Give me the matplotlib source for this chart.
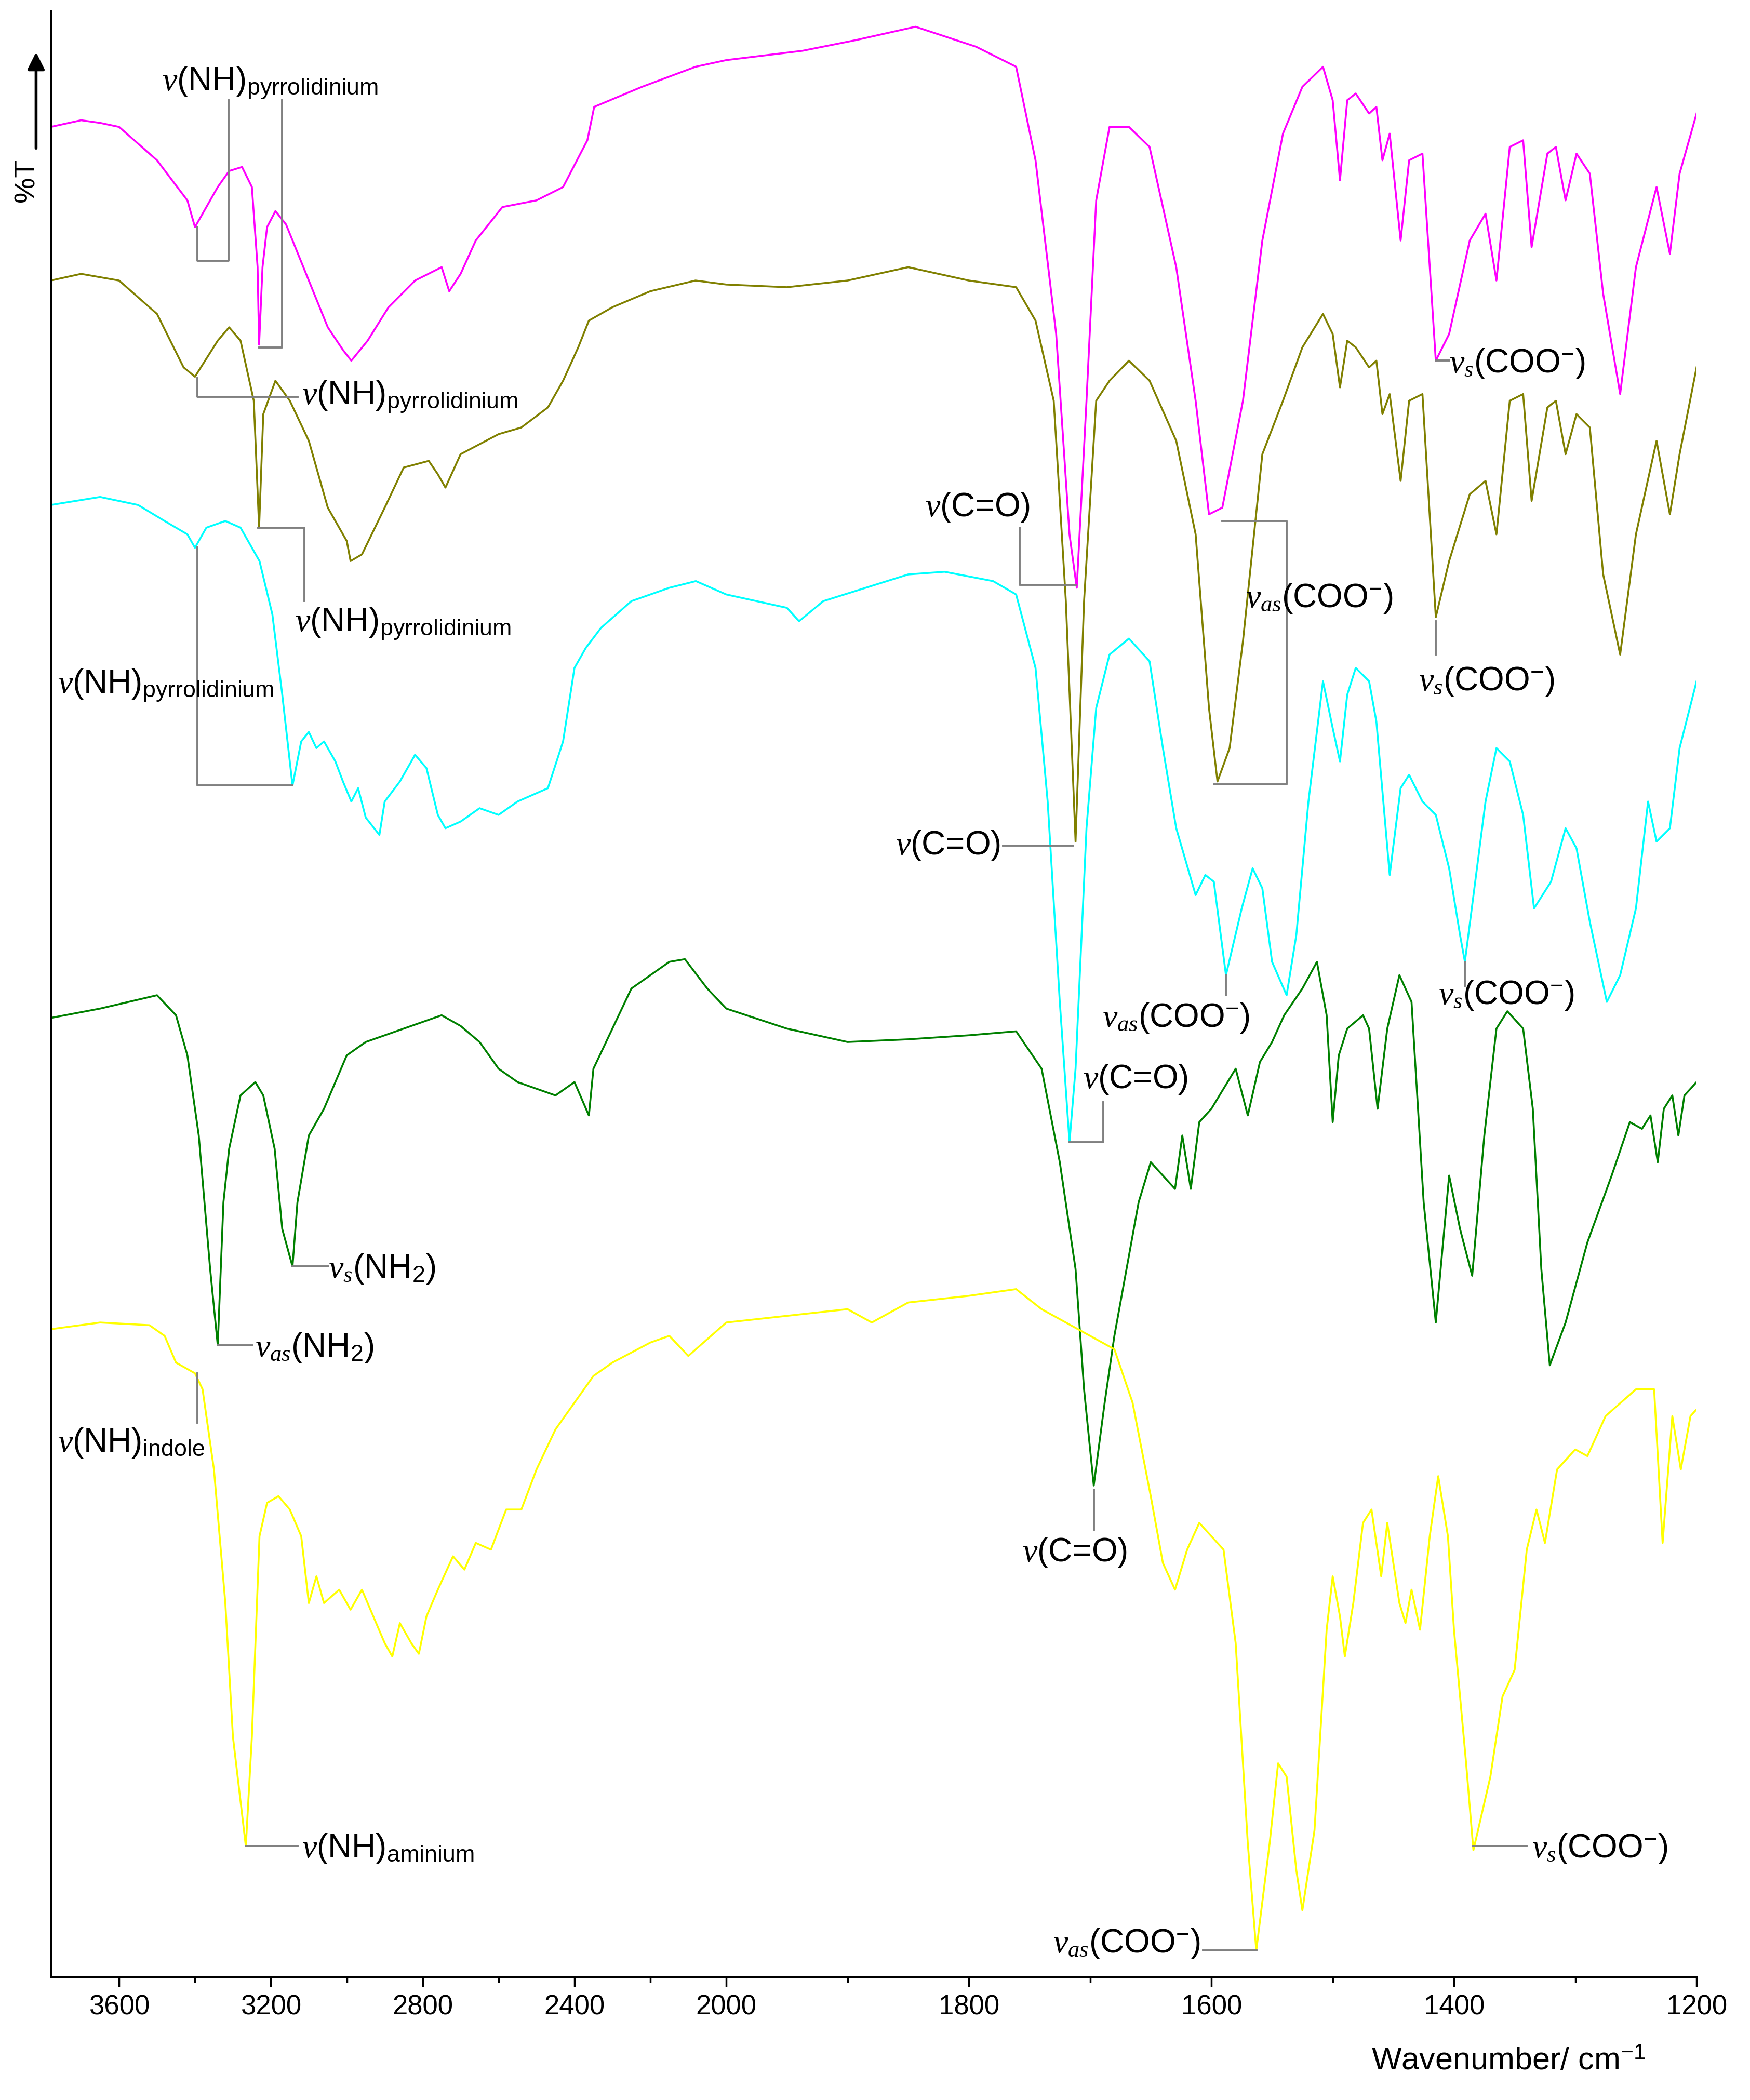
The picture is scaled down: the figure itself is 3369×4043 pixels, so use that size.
import numpy as np
import matplotlib
matplotlib.use("Agg")
import matplotlib.pyplot as plt

plt.rcParams['font.family'] = ['Liberation Sans', 'DejaVu Sans']
plt.rcParams['mathtext.fontset'] = 'custom'
plt.rcParams['mathtext.rm'] = 'Liberation Sans'
plt.rcParams['mathtext.it'] = 'Liberation Serif:italic'
plt.rcParams['mathtext.bf'] = 'Liberation Sans:bold'

# ---- data: wavenumber (cm-1) and curve height (plot units, larger = lower on page)
mag_w = [3780,3700,3650,3600,3500,3420,3400,3340,3310,3276,3250,3235,3231,3222,3210,3188,3160,3100,3050,3010,2988,2945,2890,2820,2750,2730,2700,2660,2590,2500,2430,2366,2348,2222,2081,2000,1937,1893,1844,1794,1761,1745,1728,1717,1711,1703,1695,1684,1668,1651,1629,1613,1602,1591,1574,1558,1541,1525,1508,1500,1494,1488,1481,1470,1464,1459,1453,1444,1437,1426,1415,1404,1387,1374,1365,1354,1343,1336,1323,1316,1308,1299,1288,1277,1263,1250,1233,1222,1214,1200]
mag_y = [95,90,92,95,120,150,170,140,128,125,140,200,258,200,170,158,168,210,245,262,270,255,230,210,200,218,205,180,155,150,140,105,80,65,50,45,38,30,20,35,50,120,250,400,440,300,150,95,95,110,200,300,385,380,300,180,100,65,50,75,135,75,70,85,80,120,100,180,120,115,270,250,180,160,210,110,105,185,115,110,150,115,130,220,295,200,140,190,130,85]

olv_w = [3780,3700,3600,3500,3430,3400,3340,3310,3280,3245,3231,3220,3188,3150,3100,3050,3000,2990,2960,2900,2850,2784,2760,2740,2700,2600,2540,2470,2430,2390,2362,2300,2200,2081,2000,1950,1900,1850,1800,1761,1745,1730,1720,1712,1705,1695,1684,1668,1651,1629,1613,1602,1595,1585,1574,1558,1541,1525,1508,1500,1494,1488,1481,1470,1464,1459,1453,1444,1437,1426,1415,1404,1387,1374,1365,1354,1343,1336,1323,1316,1308,1299,1288,1277,1263,1250,1233,1222,1214,1200]
olv_y = [210,205,210,235,275,282,255,245,255,300,395,310,285,300,330,380,405,420,415,380,350,345,355,365,340,325,320,305,285,260,240,230,218,210,213,215,210,200,210,215,240,300,450,630,450,300,285,270,285,330,400,530,585,560,480,340,300,260,235,250,290,255,260,275,270,310,295,360,300,295,462,420,370,360,400,300,295,375,305,300,340,310,320,430,490,400,330,385,340,275]

cyn_w = [3780,3650,3550,3480,3420,3400,3370,3320,3280,3230,3196,3170,3143,3120,3100,3080,3060,3030,3010,2988,2970,2950,2914,2900,2860,2820,2790,2760,2740,2700,2650,2600,2550,2470,2430,2400,2370,2330,2250,2150,2080,2000,1950,1940,1920,1850,1820,1780,1761,1745,1735,1725,1717,1712,1703,1695,1684,1668,1651,1640,1629,1613,1605,1598,1588,1575,1566,1558,1550,1538,1530,1520,1508,1500,1494,1488,1481,1470,1464,1453,1444,1437,1426,1415,1404,1395,1391,1374,1365,1354,1343,1334,1320,1308,1299,1288,1274,1263,1250,1240,1233,1222,1214,1200]
cyn_y = [378,372,378,390,400,410,395,390,395,420,460,520,588,555,548,560,555,570,585,600,590,612,625,600,585,565,575,610,620,615,605,610,600,590,555,500,485,470,450,440,435,445,455,465,450,430,428,435,445,500,600,750,855,800,620,530,490,478,495,560,620,670,655,660,730,680,650,665,720,745,700,600,510,545,570,520,500,510,540,655,590,580,600,610,650,700,720,600,560,570,610,680,660,620,635,690,750,730,680,600,630,620,560,510]

grn_w = [3780,3650,3500,3450,3420,3390,3360,3340,3325,3310,3280,3241,3220,3190,3170,3143,3130,3100,3060,3030,3000,2950,2900,2850,2800,2750,2700,2650,2600,2550,2500,2450,2400,2362,2350,2300,2250,2150,2109,2050,2000,1950,1900,1850,1800,1761,1740,1725,1712,1705,1697,1688,1680,1670,1660,1650,1640,1630,1624,1617,1610,1600,1590,1580,1570,1560,1550,1540,1525,1513,1505,1500,1495,1488,1475,1470,1463,1455,1445,1435,1425,1415,1404,1395,1385,1375,1365,1356,1343,1335,1328,1321,1308,1290,1270,1255,1245,1238,1232,1227,1220,1215,1210,1200]
grn_y = [762,755,745,760,790,850,950,1007,900,860,820,810,820,860,920,948,900,850,830,810,790,780,775,770,765,760,768,780,800,810,815,820,810,835,800,770,740,720,718,740,755,770,780,778,775,772,800,870,950,1040,1112,1050,1000,950,900,870,880,890,850,890,840,830,815,800,835,795,780,760,740,720,760,840,790,770,760,770,830,770,730,750,900,990,880,920,955,850,770,757,770,830,950,1022,990,930,880,840,845,835,870,830,820,850,820,810]

yel_w = [3780,3650,3520,3480,3450,3400,3380,3350,3320,3300,3266,3250,3230,3210,3180,3150,3120,3100,3080,3060,3020,2990,2960,2930,2900,2880,2860,2830,2810,2790,2760,2720,2690,2660,2620,2580,2540,2500,2450,2400,2350,2300,2200,2150,2100,2060,2000,1950,1900,1880,1850,1800,1761,1740,1720,1700,1680,1665,1650,1640,1630,1620,1610,1600,1590,1580,1570,1563,1552,1545,1538,1530,1525,1515,1505,1500,1494,1490,1483,1475,1468,1460,1455,1450,1445,1440,1435,1428,1420,1413,1405,1400,1390,1384,1370,1360,1350,1340,1332,1325,1315,1300,1290,1275,1250,1235,1228,1220,1213,1205,1200]
yel_y = [995,990,992,1000,1020,1028,1040,1100,1200,1300,1382,1300,1150,1125,1120,1130,1150,1200,1180,1200,1190,1205,1190,1210,1230,1240,1215,1230,1238,1210,1190,1165,1175,1155,1160,1130,1130,1100,1070,1050,1030,1020,1005,1000,1015,1005,990,985,980,990,975,970,965,980,990,1000,1010,1050,1120,1170,1190,1160,1140,1150,1160,1230,1380,1460,1380,1320,1330,1400,1430,1370,1220,1180,1210,1240,1200,1140,1130,1180,1140,1170,1200,1215,1190,1220,1150,1105,1150,1220,1320,1385,1330,1270,1250,1160,1130,1155,1100,1085,1090,1060,1040,1040,1155,1060,1100,1060,1055]

curves = [(mag_w, mag_y, '#FF00FF'), (olv_w, olv_y, '#808000'), (cyn_w, cyn_y, '#00FFFF'),
          (grn_w, grn_y, '#008000'), (yel_w, yel_y, '#FFFF00')]

tick_vals = [3600, 3200, 2800, 2400, 2000, 1800, 1600, 1400, 1200]
minor_vals = [3400, 3000, 2600, 2200, 1900, 1700, 1500, 1300]

# ---- broken wavenumber scale (increasing function of wavenumber; axis limits invert it)
B = 2000.0
P0 = (3780 - B) * 0.2844
def fwd(w):
    w = np.asarray(w, dtype=float)
    pos = np.where(w >= B, (3780 - w) * 0.2844, P0 + (B - w) * 0.909)
    return -pos
def inv(q):
    p = -np.asarray(q, dtype=float)
    return np.where(p <= P0, 3780 - p / 0.2844, B - (p - P0) / 0.909)

fig = plt.figure(figsize=(33.69, 40.43), dpi=100)
ax = fig.add_axes([38/1310, 1-1480/1572, (1270-38)/1310, (1480-8)/1572])
ax.set_xscale('function', functions=(fwd, inv))
ax.set_xlim(3780, 1200)
ax.set_ylim(1480, 8)

for w, y, c in curves:
    ax.plot(w, y, color=c, lw=2.6)

G = dict(color='#808080', lw=2.8)
FS = 46
def seg(xs, ys):
    ax.plot(xs, ys, **G)
def txt(x, y, s, ha='left'):
    ax.text(x, y, s, fontsize=FS, ha=ha, va='center')

sub_p = r'$\nu$(NH)$_{\mathregular{pyrrolidinium}}$'
COO = r'(COO$^{-}$)'
# magenta
seg([3393, 3393, 3312, 3312], [170, 195, 195, 75])
seg([3231, 3171, 3171], [260, 260, 75])
txt(3487, 62, sub_p)
seg([1415, 1404], [270, 270]); txt(1404, 272, r'$\nu_s$' + COO)
# olive
seg([3393, 3393, 3129], [283, 297, 297]); txt(3118, 297, sub_p)
seg([3234, 3111, 3111], [395, 395, 450]); txt(3136, 467, sub_p)
seg([1758, 1758, 1712], [395, 438, 438]); txt(1836, 380, r'$\nu$(C=O)')
seg([1591, 1538, 1538, 1598], [390, 390, 587, 587]); txt(1572, 448, r'$\nu_{as}$' + COO)
seg([1415, 1415], [465, 490]); txt(1429, 510, r'$\nu_s$' + COO)
# cyan
seg([3393, 3393, 3143], [410, 588, 588]); txt(3762, 513, sub_p)
seg([1772, 1714], [633, 633]); txt(1774, 633, r'$\nu$(C=O)', ha='right')
seg([1588, 1588], [730, 745]); txt(1690, 762, r'$\nu_{as}$' + COO)
seg([1391, 1391], [720, 738]); txt(1413, 745, r'$\nu_s$' + COO)
seg([1717, 1689, 1689], [855, 855, 825]); txt(1706, 808, r'$\nu$(C=O)')
# green
seg([3143, 3048], [948, 948]); txt(3048, 950, r'$\nu_s$(NH$_2$)')
seg([3340, 3248], [1007, 1007]); txt(3241, 1009, r'$\nu_{as}$(NH$_2$)')
seg([1697, 1697], [1115, 1145]); txt(1756, 1162, r'$\nu$(C=O)')
# yellow
seg([3393, 3393], [1028, 1065]); txt(3762, 1080, r'$\nu$(NH)$_{\mathregular{indole}}$')
seg([3266, 3129], [1382, 1382]); txt(3118, 1384, r'$\nu$(NH)$_{\mathregular{aminium}}$')
seg([1607, 1563], [1460, 1460]); txt(1609, 1455, r'$\nu_{as}$' + COO, ha='right')
seg([1384, 1340], [1382, 1382]); txt(1336, 1384, r'$\nu_s$' + COO)

ax.set_xticks(tick_vals)
ax.set_xticklabels([str(v) for v in tick_vals])
ax.set_xticks(minor_vals, minor=True)
ax.tick_params(axis='x', which='major', labelsize=38, length=14, width=2.5, direction='out', pad=10)
ax.tick_params(axis='x', which='minor', length=8, width=2.5, direction='out')
ax.set_yticks([])
for s in ['top', 'right']:
    ax.spines[s].set_visible(False)
for s in ['left', 'bottom']:
    ax.spines[s].set_linewidth(2.5)

fig.text(1232/1310, 1-1543/1572, r'Wavenumber/ cm$^{-1}$', fontsize=44, ha='right', va='center')
fig.text(20/1310, 1-135/1572, '%T', fontsize=40, rotation=90, ha='center', va='center')
fig.add_artist(matplotlib.patches.FancyArrowPatch((27/1310, 1-112/1572), (27/1310, 1-38/1572),
               transform=fig.transFigure, arrowstyle='-|>', mutation_scale=50, lw=4, color='black'))

fig.savefig('out.png', dpi=100)
